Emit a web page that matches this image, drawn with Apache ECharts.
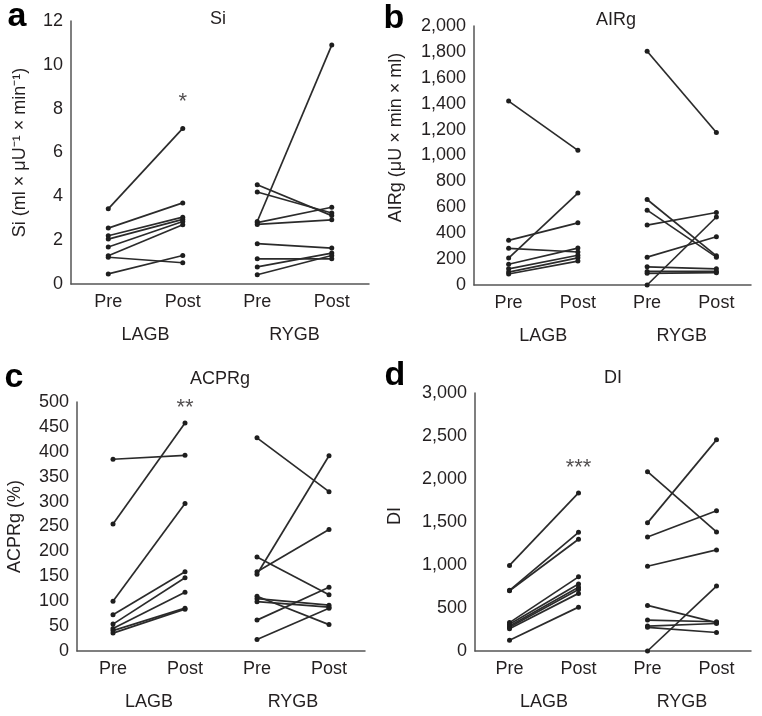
<!DOCTYPE html>
<html>
<head>
<meta charset="utf-8">
<script src="https://cdn.jsdelivr.net/npm/echarts@6/dist/echarts.min.js"></script>
<style>
  html, body { margin: 0; background: #fff; }
  #chart { width: 762px; height: 716px; }
</style>
</head>
<body>
<div id="chart"></div>
<script>
// categories
const phases = ['Pre', 'Post', 'Pre', 'Post']
const groups = ['LAGB', 'RYGB']

// a: Si
const siLagbPre = [3.43, 2.55, 2.2, 2.05, 1.69, 1.29, 1.22, 0.46]
const siLagbPost = [7.1, 3.7, 3.05, 2.95, 2.85, 2.7, 0.97, 1.3]
const siRygbPre = [4.53, 4.2, 2.85, 2.8, 2.72, 1.84, 1.15, 0.78, 0.42]
const siRygbPost = [3.12, 3.24, 10.9, 3.5, 2.93, 1.64, 1.15, 1.41, 1.3]

// b: AIRg
const airLagbPre = [1420, 345, 283, 208, 160, 125, 100, 85]
const airLagbPost = [1040, 480, 255, 710, 285, 230, 210, 185]
const airRygbPre = [1805, 660, 578, 463, 215, 140, 105, 90, 0]
const airRygbPost = [1178, 225, 215, 560, 373, 125, 105, 95, 525]

// c: ACPRg
const acpLagbPre = [385, 255, 100, 73, 54, 45, 41, 36]
const acpLagbPost = [393, 458, 296, 159, 147, 118, 86, 84]
const acpRygbPre = [428, 189, 159, 154, 110, 105, 99, 62, 23]
const acpRygbPost = [320, 113, 244, 392, 53, 92, 88, 128, 86]

// d: DI
const diLagbPre = [995, 705, 700, 330, 310, 290, 275, 260, 125]
const diLagbPost = [1838, 1380, 1300, 862, 780, 740, 715, 670, 510]
const diRygbPre = [2085, 1490, 1325, 985, 530, 360, 290, 275, 0]
const diRygbPost = [1385, 2455, 1630, 1175, 330, 340, 320, 215, 755]

// y axis ranges / ticks
const yMax = [12, 2000, 500, 3000]
const yStep = [2, 200, 50, 500]

// significance marks (LAGB Post)
const stars = ['*', '', '**', '***']
const starValue = [8.3, null, 488, 2125]

const titles = ['Si', 'AIRg', 'ACPRg', 'DI']
const letters = ['a', 'b', 'c', 'd']
const yNames = [
  'Si (ml × μU⁻¹ × min⁻¹)',
  'AIRg (μU × min × ml)',
  'ACPRg (%)',
  'DI'
]

const panelData = [
  [siLagbPre, siLagbPost, siRygbPre, siRygbPost],
  [airLagbPre, airLagbPost, airRygbPre, airRygbPost],
  [acpLagbPre, acpLagbPost, acpRygbPre, acpRygbPost],
  [diLagbPre, diLagbPost, diRygbPre, diRygbPost]
]

const font = '"Liberation Sans", Arial, Helvetica, sans-serif'
const ink = '#231f20'

const grids = [
  { left: 71, top: 21, width: 298, height: 263 },
  { left: 474, top: 26, width: 277, height: 259 },
  { left: 77, top: 402, width: 288, height: 249 },
  { left: 475, top: 393, width: 276, height: 258 }
]
const nameGaps = [42, 69, 53, 71]
const nameShift = [0, 36, 0, 12]
const titlePos = [[218, 19], [616, 20], [220, 379], [613, 378]]
const letterPos = [[17, 17], [394, 19], [14, 378], [395, 376]]

const chart = echarts.init(document.getElementById('chart'))

const xAxes = []
const yAxes = []
const series = []
const graphics = []

grids.forEach((g, p) => {
  xAxes.push({
    type: 'category',
    gridIndex: p,
    data: phases,
    boundaryGap: true,
    position: 'bottom',
    axisLine: { lineStyle: { color: '#555', width: 1.5 } },
    axisTick: { show: false },
    axisLabel: { margin: 9, fontSize: 18, color: ink, fontFamily: font }
  })
  xAxes.push({
    type: 'category',
    gridIndex: p,
    data: groups,
    position: 'bottom',
    axisLine: { show: false },
    axisTick: { show: false },
    axisLabel: { margin: 42, fontSize: 18, color: ink, fontFamily: font }
  })
  yAxes.push({
    type: 'value',
    gridIndex: p,
    min: 0,
    max: yMax[p],
    interval: yStep[p],
    splitLine: { show: false },
    axisLine: { show: true, lineStyle: { color: '#555', width: 1.5 } },
    axisTick: { show: false },
    axisLabel: {
      margin: 8,
      fontSize: 18,
      color: ink,
      fontFamily: font,
      formatter: v => v.toLocaleString('en-US')
    },
    name: yNames[p],
    nameLocation: 'middle',
    nameGap: nameGaps[p],
    nameTextStyle: {
      fontSize: 18,
      color: ink,
      fontFamily: font,
      padding: [0, 0, 0, nameShift[p]]
    }
  })

  const [lPre, lPost, rPre, rPost] = panelData[p]
  const addPairs = (pre, post, right) => {
    pre.forEach((v, i) => {
      series.push({
        type: 'line',
        xAxisIndex: p * 2,
        yAxisIndex: p,
        data: right ? ['-', '-', v, post[i]] : [v, post[i], '-', '-'],
        symbol: 'circle',
        symbolSize: 5,
        showAllSymbol: true,
        lineStyle: { color: '#2b2b2b', width: 1.7 },
        itemStyle: { color: '#1e1e1e' },
        silent: true,
        animation: false
      })
    })
  }
  addPairs(lPre, lPost, false)
  addPairs(rPre, rPost, true)

  if (stars[p]) {
    series.push({
      type: 'scatter',
      xAxisIndex: p * 2,
      yAxisIndex: p,
      data: [[1, starValue[p]]],
      symbolSize: 1,
      itemStyle: { color: 'rgba(0,0,0,0)' },
      label: {
        show: true,
        position: 'inside',
        formatter: stars[p],
        fontSize: 22,
        color: ink,
        fontFamily: font
      },
      silent: true,
      animation: false
    })
  }

  graphics.push({
    type: 'text',
    x: titlePos[p][0],
    y: titlePos[p][1],
    style: {
      text: titles[p],
      font: '18px ' + font,
      fill: ink,
      align: 'center',
      verticalAlign: 'middle'
    }
  })
  graphics.push({
    type: 'text',
    x: letterPos[p][0],
    y: letterPos[p][1],
    style: {
      text: letters[p],
      font: 'bold 34px ' + font,
      fill: '#000',
      align: 'center',
      verticalAlign: 'middle'
    }
  })
})

chart.setOption({
  animation: false,
  grid: grids,
  xAxis: xAxes,
  yAxis: yAxes,
  series: series,
  graphic: graphics
})
</script>
</body>
</html>
